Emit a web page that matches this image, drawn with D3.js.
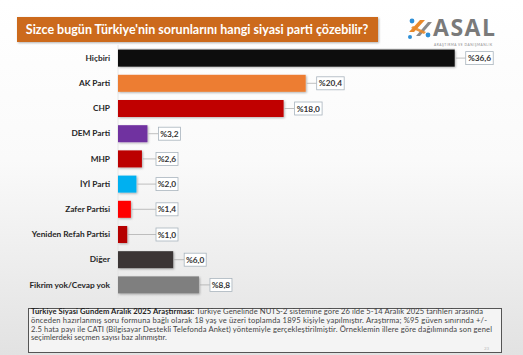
<!DOCTYPE html>
<html><head><meta charset="utf-8">
<script src="https://cdn.jsdelivr.net/npm/d3@7/dist/d3.min.js"></script>
<style>html,body{margin:0;padding:0;background:#fff;}svg{display:block;}</style>
</head><body>
<svg id="c" width="523" height="355"></svg>
<script>
const categories = ["Hiçbiri","AK Parti","CHP","DEM Parti","MHP","İYİ Parti","Zafer Partisi","Yeniden Refah Partisi","Diğer","Fikrim yok/Cevap yok"];
const values = [36.6,20.4,18.0,3.2,2.6,2.0,1.4,1.0,6.0,8.8];
const valueLabels = ["%36,6","%20,4","%18,0","%3,2","%2,6","%2,0","%1,4","%1,0","%6,0","%8,8"];
const colors = ["#0b0b0b","#ED7D31","#C00000","#7030A0","#BC0000","#00B0F0","#FF0000","#B50000","#3A3636","#7F7F7F"];
const title = "Sizce bugün Türkiye'nin sorunlarını hangi siyasi parti çözebilir?";
const noteBold = "Türkiye Siyasi Gündem Aralık 2025 Araştırması:";
const noteLines = [
  " Türkiye Genelinde NUTS-2 sistemine göre 26 ilde 5-14 Aralık 2025 tarihleri arasında",
  "önceden hazırlanmış soru formuna bağlı olarak 18 yaş ve üzeri toplamda 1895 kişiyle yapılmıştır. Araştırma; %95 güven sınırında +/-",
  "2.5 hata payı ile CATI (Bilgisayar Destekli Telefonda Anket) yöntemiyle gerçekleştirilmiştir. Örneklemin illere göre dağılımında son genel",
  "seçimlerdeki seçmen sayısı baz alınmıştır."
];

const svg = d3.select("#c");
const defs = svg.append("defs");
const g = defs.append("linearGradient").attr("id","bg").attr("x1",0).attr("y1",0).attr("x2",0).attr("y2",1);
g.append("stop").attr("offset","0%").attr("stop-color","#ffffff");
g.append("stop").attr("offset","45%").attr("stop-color","#fafafa");
g.append("stop").attr("offset","100%").attr("stop-color","#e2e2e2");
const sh = defs.append("filter").attr("id","sh").attr("x","-10%").attr("y","-20%").attr("width","130%").attr("height","160%");
sh.append("feDropShadow").attr("dx",1).attr("dy",1).attr("stdDeviation",0.8).attr("flood-color","#000").attr("flood-opacity",0.3);

svg.append("rect").attr("width",523).attr("height",355).attr("fill","url(#bg)");

// Title box
svg.append("rect").attr("x",17).attr("y",17).attr("width",361).attr("height",25)
  .attr("fill","#CC6A1C").attr("filter","url(#sh)");
svg.append("text").attr("x",197).attr("y",34).attr("text-anchor","middle")
  .attr("font-family","Lato, 'Open Sans', sans-serif").attr("font-weight","bold").attr("font-size",12.5)
  .attr("fill","#fff").text(title);

// Logo
const logo = svg.append("g");
logo.append("path").attr("d","M409,32 L420,20 L425,20 L414,32 Z").attr("fill","#E8892B");
logo.append("path").attr("d","M416,36 L428,22 L432,22 L420,36 Z").attr("fill","#8a8a8a");
logo.append("path").attr("d","M411,28 L424,34 L426,32 L413,26 Z").attr("fill","#E8892B").attr("opacity",0.9);
logo.append("circle").attr("cx",412).attr("cy",21).attr("r",2.4).attr("fill","#2E8FD6");
logo.append("circle").attr("cx",428).attr("cy",35).attr("r",2.4).attr("fill","#2E8FD6");
logo.append("circle").attr("cx",410).attr("cy",37).attr("r",2).attr("fill","#2E8FD6");
logo.append("text").attr("x",433).attr("y",36).attr("font-family","'Open Sans', Lato, sans-serif")
  .attr("font-weight","bold").attr("font-size",23).attr("fill","#7a7a7a").attr("textLength",62).text("ASAL");
logo.append("text").attr("x",434).attr("y",45.5).attr("font-family","Lato, sans-serif")
  .attr("font-size",3.2).attr("fill","#888").attr("textLength",58).text("ARAŞTIRMA VE DANIŞMANLIK");

// Scales
const x = d3.scaleLinear().domain([0,40]).range([118,486]);
const y = d3.scaleBand().domain(categories).range([45.5,297.5]).paddingInner(0.325).paddingOuter(0.1625);

// frame lines
svg.append("line").attr("x1",118).attr("x2",455).attr("y1",49).attr("y2",49).attr("stroke","#d4d4d4").attr("stroke-width",0.8);
svg.append("line").attr("x1",118).attr("x2",118).attr("y1",45).attr("y2",298).attr("stroke","#e2e2e2").attr("stroke-width",0.8);

const axis = d3.axisLeft(y).tickSize(0).tickPadding(8);
const ag = svg.append("g").attr("transform","translate(118,0)").call(axis);
ag.select(".domain").remove();
ag.selectAll("text").attr("font-family","Lato, 'Open Sans', sans-serif").attr("font-weight","bold")
  .attr("font-size",8.3).attr("fill","#262626");

const data = categories.map((c,i)=>({c, v:values[i], l:valueLabels[i], col:colors[i]}));

svg.append("g").selectAll("rect").data(data).join("rect")
  .attr("x",x(0)).attr("y",d=>y(d.c)).attr("width",d=>x(d.v)-x(0)).attr("height",y.bandwidth())
  .attr("fill",d=>d.col).attr("filter","url(#sh)");

const lx = d => Math.max(x(d.v)+11, 156);
const lab = svg.append("g").selectAll("g").data(data).join("g");
lab.append("line").attr("x1",d=>x(d.v)+1).attr("x2",d=>lx(d)).attr("y1",d=>y(d.c)+y.bandwidth()/2).attr("y2",d=>y(d.c)+y.bandwidth()/2)
  .attr("stroke","#a6a6a6").attr("stroke-width",0.7);
lab.append("rect").attr("x",d=>lx(d)).attr("y",d=>y(d.c)+y.bandwidth()/2-6.5).attr("width",d=>d.l.length>4?27.5:22).attr("height",13)
  .attr("fill","#fff").attr("stroke","#a9b4bd").attr("stroke-width",0.8);
lab.append("text").attr("x",d=>lx(d)+(d.l.length>4?13.75:11)).attr("y",d=>y(d.c)+y.bandwidth()/2+3)
  .attr("text-anchor","middle").attr("font-family","Lato, 'Open Sans', sans-serif").attr("font-weight","bold")
  .attr("font-size",8.3).attr("fill","#333").text(d=>d.l);

// Note box
svg.append("rect").attr("x",28.5).attr("y",308.5).attr("width",473).attr("height",44)
  .attr("fill","#f4f4f4").attr("stroke","#555").attr("stroke-width",1);
const lineEnds = [483, 487, 492, null];
noteLines.forEach((ln,i)=>{
  const t = svg.append("text").attr("x",31).attr("y",314+i*8.8)
    .attr("font-family","Lato, 'Open Sans', sans-serif").attr("font-size",7.6).attr("fill","#444");
  if(lineEnds[i]) t.attr("textLength",lineEnds[i]-31).attr("lengthAdjust","spacing");
  if(i===0){
    t.append("tspan").attr("font-weight","bold").attr("fill","#222").text(noteBold);
    t.append("tspan").text(ln);
  } else t.text(ln);
});
svg.append("text").attr("x",484).attr("y",350).attr("font-family","Lato, sans-serif").attr("font-size",4.5).attr("fill","#bbb").text("23");
</script>
</body></html>
